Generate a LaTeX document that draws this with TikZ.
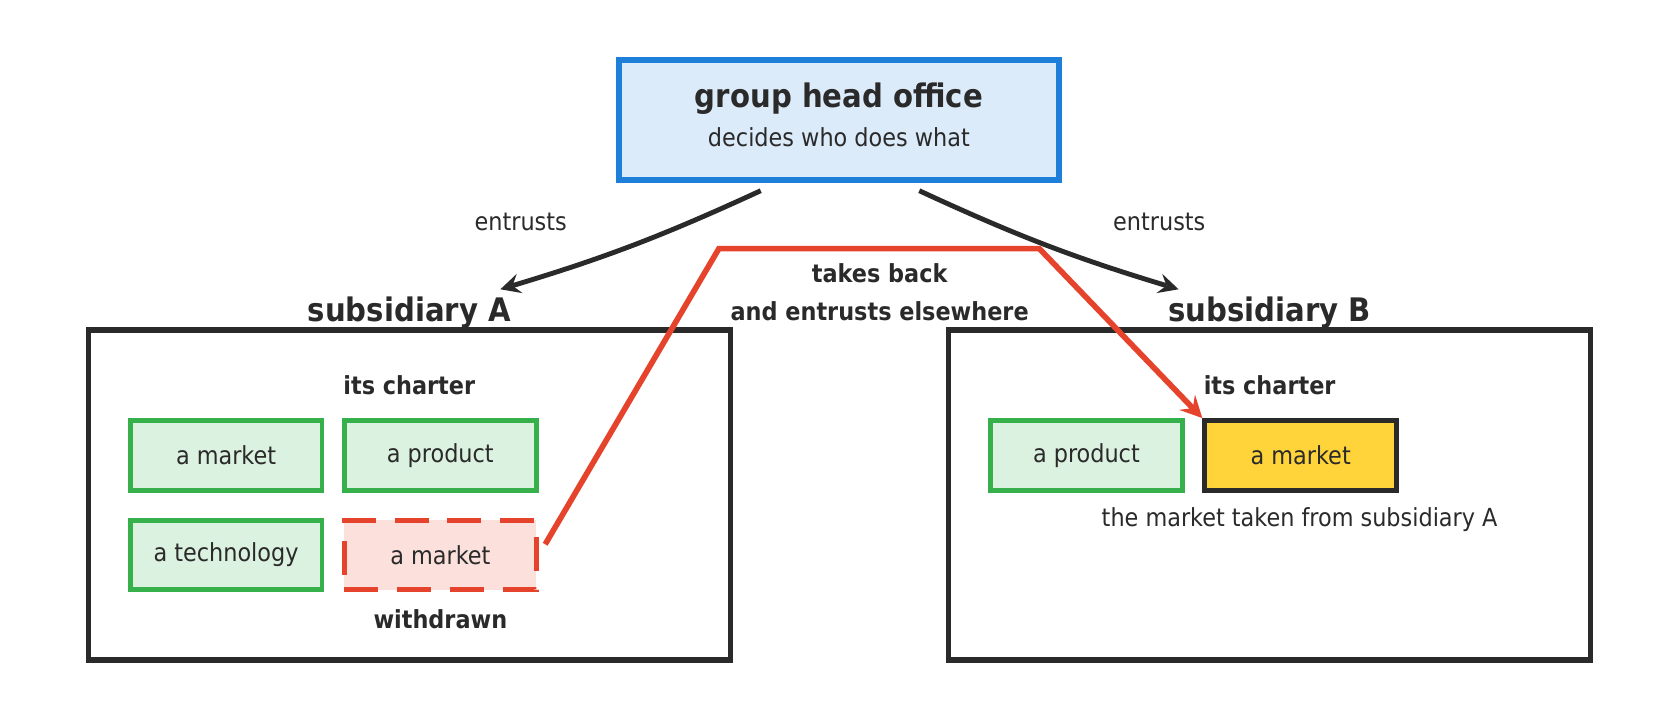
\documentclass[tikz,border=0pt]{standalone}
\usepackage{fontspec}
\setmainfont{DejaVu Sans Condensed}
\usetikzlibrary{positioning}
\definecolor{headfill}{HTML}{DCEBF9}
\definecolor{headline}{HTML}{1E7FD8}
\definecolor{itemfill}{HTML}{DCF2E0}
\definecolor{itemline}{HTML}{36B04A}
\definecolor{redline}{HTML}{E5432B}
\definecolor{redfill}{HTML}{FCE0DC}
\definecolor{gold}{HTML}{FFD43B}
\definecolor{ink}{HTML}{2A2A2A}
\newcommand{\txtsize}{\fontsize{6.6}{8}\selectfont}
\tikzset{
  subbox/.style={draw=ink,line width=1.4pt,minimum width=5.99cm,minimum height=3.08cm},
  item/.style={draw=itemline,fill=itemfill,line width=1.3pt,minimum width=1.79cm,minimum height=0.65cm,inner sep=1pt,text=ink,font=\txtsize},
  arrow/.style={line width=1.3pt,draw=ink,->,>=stealth},
  lbl/.style={text=ink,font=\txtsize},
  bold/.style={text=ink,font=\txtsize\bfseries}
}
\begin{document}
\begin{tikzpicture}[x=0.01cm,y=-0.01cm]
  \useasboundingbox (0,0) rectangle (1568,672);
  %Nodes
  \node (head) [draw=headline,fill=headfill,line width=1.5pt,minimum width=4.1cm,minimum height=1.12cm,text=ink] at (783,112) {};
  \node (title) [text=ink,font=\fontsize{8.6}{10}\selectfont\bfseries] at (783,92) {group head office};
  \node (sub) [lbl] at (783,128) {decides who does what};
  \node (boxA) [subbox] at (382,462) {};
  \node (boxB) [subbox] at (1185,462) {};
  \node (labA) [text=ink,font=\fontsize{8.6}{10}\selectfont\bfseries] at (382,292) {subsidiary A};
  \node (labB) [text=ink,font=\fontsize{8.6}{10}\selectfont\bfseries] at (1185,292) {subsidiary B};
  \node (charA) [bold] at (382,360) {its charter};
  \node (charB) [bold] at (1185,360) {its charter};
  \node (mktA) [item] at (211,425) {a market};
  \node (prodA) [item] at (411,425) {a product};
  \node (techA) [item] at (211,518) {a technology};
  \node (lost) [item,draw=redline,fill=redfill,dashed,dash pattern=on 9pt off 5pt] at (411,518) {a market};
  \node (wd) [bold] at (411,578) {withdrawn};
  \node (prodB) [item] at (1014,425) {a product};
  \node (mktB) [item,draw=ink,fill=gold] at (1214,425) {a market};
  \node (note) [lbl] at (1213,485) {the market taken from subsidiary A};
  \node (entA) [lbl] at (486,207) {entrusts};
  \node (entB) [lbl] at (1082,207) {entrusts};
  \node (back) [bold,align=center] at (821,273) {takes back\\[2pt]and entrusts elsewhere};
  \coordinate (kA) at (671,232);
  \coordinate (kB) at (970,232);
  %Lines
  \draw[arrow] (710,178) to[bend left=4] (467,270);
  \draw[arrow] (858,178) to[bend right=4] (1100,270);
  \draw[line width=1.5pt,draw=redline,->,>=stealth] (lost.east) ++(6,-10) -- (kA) -- (kB) -- (mktB.north west);
\end{tikzpicture}
\end{document}
